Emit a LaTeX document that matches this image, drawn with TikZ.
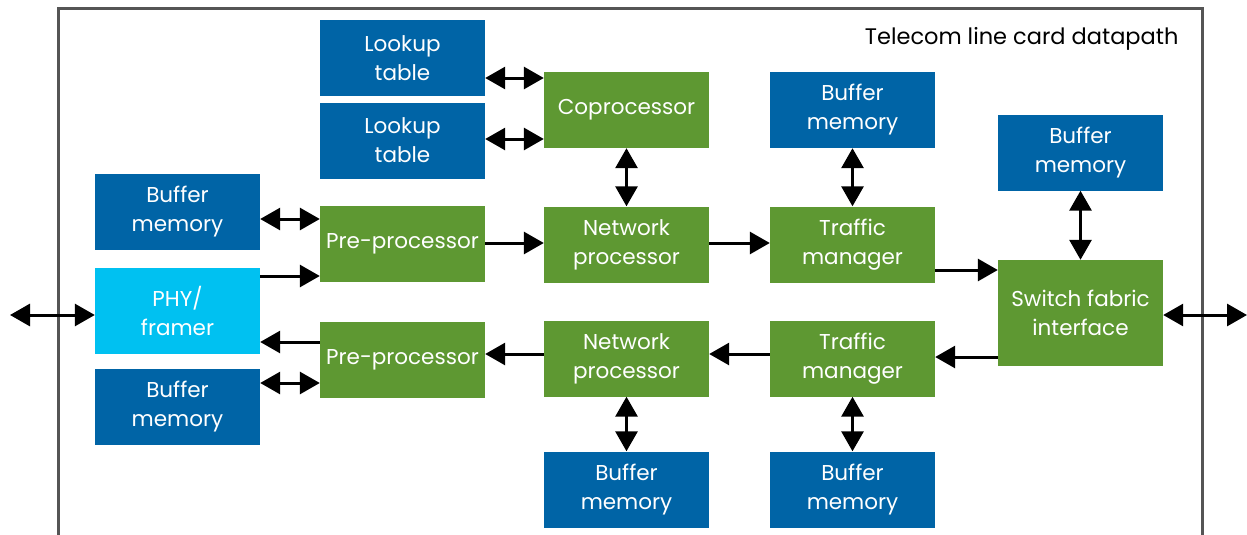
\documentclass[tikz,border=0pt]{standalone}
\usepackage{fontspec}
\setmainfont{Poppins}
\usetikzlibrary{arrows.meta}
\definecolor{memblue}{HTML}{0064A6}
\definecolor{procgreen}{HTML}{5E9832}
\definecolor{phycyan}{HTML}{00C1F1}
\definecolor{framegray}{HTML}{555555}
\tikzset{
  x=1pt, y=-1pt,
  blk/.style={minimum width=165pt, minimum height=76pt, inner sep=0pt, text=white,
    align=center, font=\fontsize{21.5}{29}\selectfont},
  mem/.style={blk, fill=memblue},
  proc/.style={blk, fill=procgreen},
  phy/.style={blk, fill=phycyan},
  uni/.style={line width=3pt, -{Triangle[length=20pt,width=22pt]}},
  bi/.style={line width=3pt, {Triangle[length=20pt,width=22pt]}-{Triangle[length=20pt,width=22pt]}},
}
\begin{document}
\begin{tikzpicture}
\useasboundingbox (0,0) rectangle (1247,535);
% enclosing card outline
\begin{scope}
\clip (0,0) rectangle (1247,535);
\draw[framegray, line width=3pt] (58,545) -- (58,9) -- (1202,9) -- (1202,545);
\end{scope}
\node[anchor=base east, font=\fontsize{22.5}{26}\selectfont] (title) at (1182,45) {Telecom line card datapath};

% blocks
\node[mem] (lt1) at (402.5,58) {Lookup\\table};
\node[mem] (lt2) at (402.5,140.5) {Lookup\\table};
\node[proc] (cop) at (626.5,110) {Coprocessor};
\node[mem] (bmtm) at (852.5,110) {Buffer\\memory};
\node[mem] (bmsf) at (1080.5,152.5) {Buffer\\memory};
\node[mem] (bmin) at (177.5,211.5) {Buffer\\memory};
\node[proc] (prein) at (402.5,243.5) {Pre-processor};
\node[proc] (npin) at (626.5,244.5) {Network\\processor};
\node[proc] (tmin) at (852.5,244.5) {Traffic\\manager};
\node[proc, minimum height=106pt] (sfi) at (1080.5,313) {Switch fabric\\interface};
\node[phy, minimum height=86pt] (phy) at (177.5,311) {PHY/\\framer};
\node[proc] (preout) at (402.5,359.5) {Pre-processor};
\node[proc] (npout) at (626.5,358.5) {Network\\processor};
\node[proc] (tmout) at (852.5,358.5) {Traffic\\manager};
\node[mem] (bmout) at (177.5,406.5) {Buffer\\memory};
\node[mem] (bmnp) at (626.5,489.5) {Buffer\\memory};
\node[mem] (bmtmo) at (852.5,489.5) {Buffer\\memory};

% free ends of the line-side and fabric-side ports
\coordinate (linein) at (10,315);
\coordinate (fabout) at (1247,315);

% lookup and coprocessor links
\draw[bi] (lt1.east |- 0,78) -- (cop.west |- 0,78);
\draw[bi] (lt2.east |- 0,139) -- (cop.west |- 0,139);
\draw[bi] (cop) -- (npin);
\draw[bi] (bmtm) -- (tmin);
\draw[bi] (bmsf) -- (sfi);

% ingress path
\draw[bi] (bmin.east |- 0,219) -- (prein.west |- 0,219);
\draw[uni] (phy.east |- 0,276) -- (prein.west |- 0,276);
\draw[uni] (prein.east |- 0,243) -- (npin.west |- 0,243);
\draw[uni] (npin.east |- 0,243) -- (tmin.west |- 0,243);
\draw[uni] (tmin.east |- 0,270) -- (sfi.west |- 0,270);

% egress path
\draw[uni] (sfi.west |- 0,357) -- (tmout.east |- 0,357);
\draw[uni] (tmout.west |- 0,354) -- (npout.east |- 0,354);
\draw[uni] (npout.west |- 0,354) -- (preout.east |- 0,354);
\draw[uni] (preout.west |- 0,342) -- (phy.east |- 0,342);
\draw[bi] (bmout.east |- 0,383) -- (preout.west |- 0,383);
\draw[bi] (npout) -- (bmnp);
\draw[bi] (tmout) -- (bmtmo);

% external ports
\draw[bi] (linein) -- (phy.west |- linein);
\draw[bi] (sfi.east |- fabout) -- (fabout);
\end{tikzpicture}
\end{document}
